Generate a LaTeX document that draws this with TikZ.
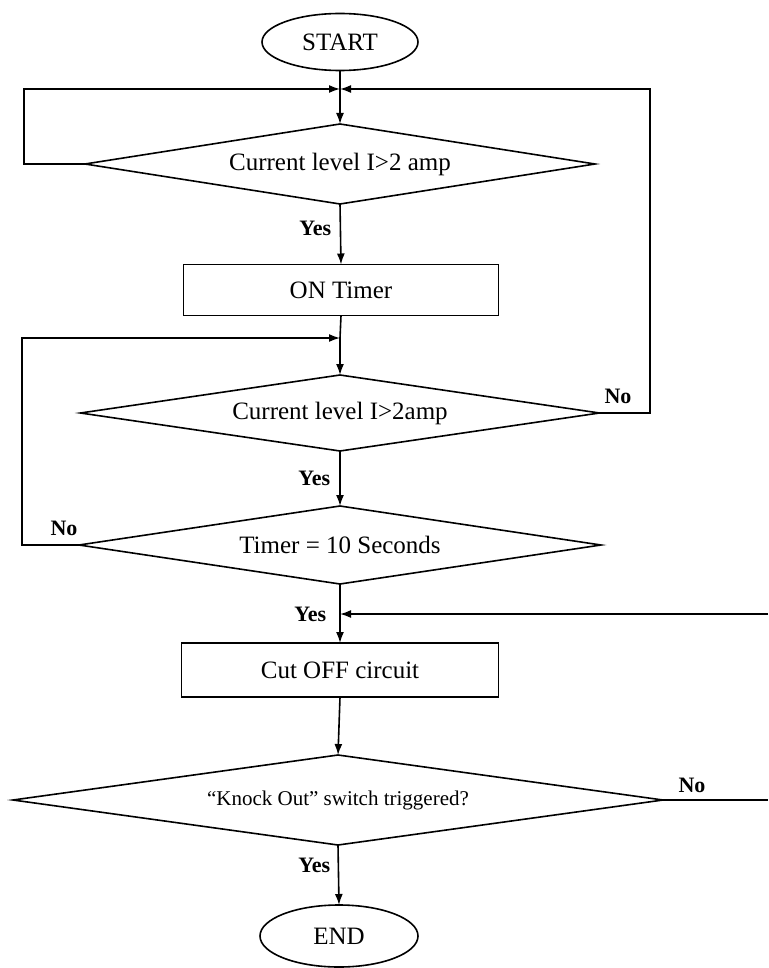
\documentclass[tikz,border=0pt]{standalone}
\usepackage{fontspec}
\setmainfont{Liberation Serif}
\usetikzlibrary{shapes.geometric,arrows.meta}
\begin{document}
\begin{tikzpicture}[x=1pt,y=-1pt,
  line width=1.6pt,
  txt/.style={font=\fontsize{25}{28}\selectfont},
  terminal/.style={draw, ellipse, inner sep=0pt, outer sep=0pt, txt},
  decision/.style={draw, diamond, inner sep=0pt, outer sep=0pt, txt},
  process/.style={draw, rectangle, inner sep=0pt, outer sep=0pt, txt},
  lbl/.style={font=\bfseries\fontsize{22}{24}\selectfont, inner sep=1pt},
  arr/.style={-{Latex[length=11pt,width=8pt]}},
]
\useasboundingbox (0,0) rectangle (768,968);

\node[terminal, minimum width=156pt, minimum height=57pt] (start) at (340,42) {START};
\coordinate (J1) at (340,89);
\node[decision, shape aspect=6.4, minimum width=510pt, minimum height=80pt] (d1) at (340,164) {Current level I>2 amp};
\node[process, minimum width=315pt, minimum height=51pt] (on) at (341,290) {ON Timer};
\coordinate (J2) at (340,338);
\node[decision, shape aspect=6.8, minimum width=519pt, minimum height=76pt] (d2) at (340,413) {Current level I>2amp};
\node[decision, shape aspect=6.7, minimum width=522pt, minimum height=78pt] (d3) at (340,545) {Timer = 10 Seconds};
\coordinate (J3) at (340,614);
\node[process, minimum width=317pt, minimum height=54pt] (cut) at (340,670) {Cut OFF circuit};
\node[decision, shape aspect=7.2, minimum width=650pt, minimum height=90pt, font=\fontsize{21}{24}\selectfont] (d4) at (338,800) {“Knock Out” switch triggered?};
\node[terminal, minimum width=158pt, minimum height=62pt] (stop) at (339,936) {END};

\coordinate (lc1) at (24,89);
\coordinate (rc1) at (650,89);
\coordinate (lc2) at (22,338);
\coordinate (rin) at (768,614);
\coordinate (rout) at (768,800);

% main flow
\draw (start) -- (J1);
\draw[arr] (J1) -- (d1.north);
\draw[arr] (d1.south) -- (on.north);
\draw (on.south) -- (J2);
\draw[arr] (J2) -- (d2.north);
\draw[arr] (d2.south) -- (d3.north);
\draw (d3.south) -- (J3);
\draw[arr] (J3) -- (cut.north);
\draw[arr] (cut.south) -- (d4.north);
\draw[arr] (d4.south) -- (stop.north);

% loops
\draw[arr] (d1.west) -| (lc1) -- (J1);
\draw[arr] (d2.east) -| (rc1) -- (J1);
\draw[arr] (d3.west) -| (lc2) -- (J2);
\draw[arr] (rin) -- (J3);
\draw (d4.east) -- (rout);

% labels
\node[lbl, anchor=east] (y1) at (333,228) {Yes};
\node[lbl, anchor=east] (y2) at (332,478) {Yes};
\node[lbl, anchor=east] (y3) at (328,614) {Yes};
\node[lbl, anchor=east] (y4) at (332,865) {Yes};
\node[lbl] (n1) at (618,396) {No};
\node[lbl] (n2) at (64,528) {No};
\node[lbl] (n3) at (692,785) {No};
\end{tikzpicture}
\end{document}
